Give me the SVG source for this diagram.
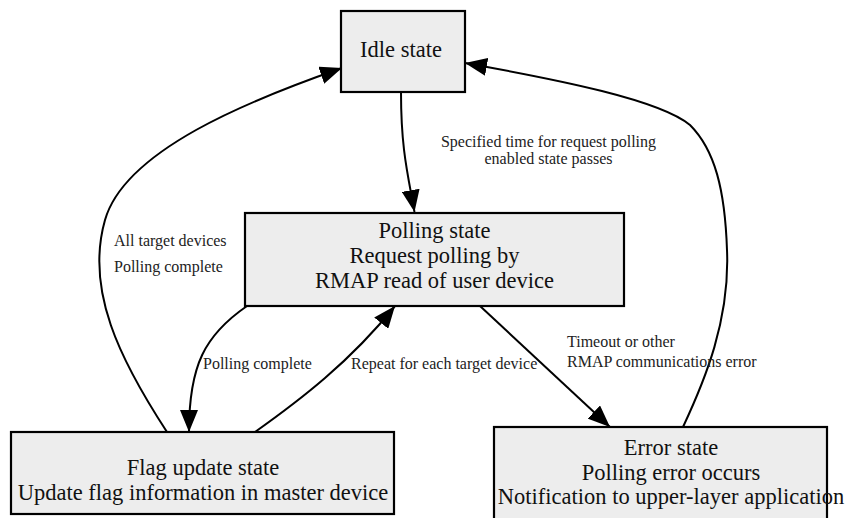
<svg xmlns="http://www.w3.org/2000/svg" width="850" height="518" viewBox="0 0 850 518">
  <style>
    .state rect { fill: #ededed; stroke: #000; stroke-width: 2.2; }
    .state text { font-family: "Liberation Serif", "DejaVu Serif", serif; font-size: 22.5px; fill: #111; text-anchor: middle; }
    .edge { fill: none; stroke: #000; stroke-width: 2; marker-end: url(#head); }
    .lbl { font-family: "Liberation Serif", "DejaVu Serif", serif; font-size: 16px; fill: #222; }
  </style>
  <defs>
    <marker id="head" markerUnits="userSpaceOnUse" viewBox="0 0 22 18" markerWidth="22" markerHeight="18" refX="22" refY="9" orient="auto">
      <path d="M0,0 L22,9 L0,18 z" fill="#000"/>
    </marker>
  </defs>
  <rect width="850" height="518" fill="#fff"/>

  <!-- transitions -->
  <g id="connectors">
    <path class="edge" d="M401,92 C401,150 408,175 414.5,212"/>
    <path class="edge" d="M247,306 C205,335 189,365 189,432"/>
    <path class="edge" d="M255,432 C300,400 350,362 395,306"/>
    <path class="edge" d="M167,432 C120,360 85,290 105,220 C125,150 250,100 342,68"/>
    <path class="edge" d="M480,306 L610,427"/>
    <path class="edge" d="M683,427 C705,380 730,320 727,250 C725,190 715,150 690,125 C660,100 560,80 465,63"/>
    <text class="lbl" x="548.5" y="147" text-anchor="middle">Specified time for request polling</text>
    <text class="lbl" x="548.5" y="164" text-anchor="middle">enabled state passes</text>
    <text class="lbl" x="114" y="246">All target devices</text>
    <text class="lbl" x="114" y="272">Polling complete</text>
    <text class="lbl" x="203" y="369">Polling complete</text>
    <text class="lbl" x="351" y="369">Repeat for each target device</text>
    <text class="lbl" x="567" y="347">Timeout or other</text>
    <text class="lbl" x="567" y="367">RMAP communications error</text>
  </g>

  <g id="idle" class="state">
    <rect x="341" y="11" width="124" height="81"/>
    <text x="401" y="57">Idle state</text>
  </g>

  <g id="polling" class="state">
    <rect x="245" y="213" width="379" height="93"/>
    <text x="434.5" y="238">Polling state</text>
    <text x="434.5" y="263">Request polling by</text>
    <text x="434.5" y="288">RMAP read of user device</text>
  </g>

  <g id="flag-update" class="state">
    <rect x="11" y="432" width="383" height="82"/>
    <text x="203" y="475">Flag update state</text>
    <text x="203" y="500">Update flag information in master device</text>
  </g>

  <g id="error" class="state">
    <rect x="494" y="427" width="333" height="100"/>
    <text x="671" y="455">Error state</text>
    <text x="671" y="480">Polling error occurs</text>
    <text x="671" y="504">Notification to upper-layer application</text>
  </g>
</svg>
